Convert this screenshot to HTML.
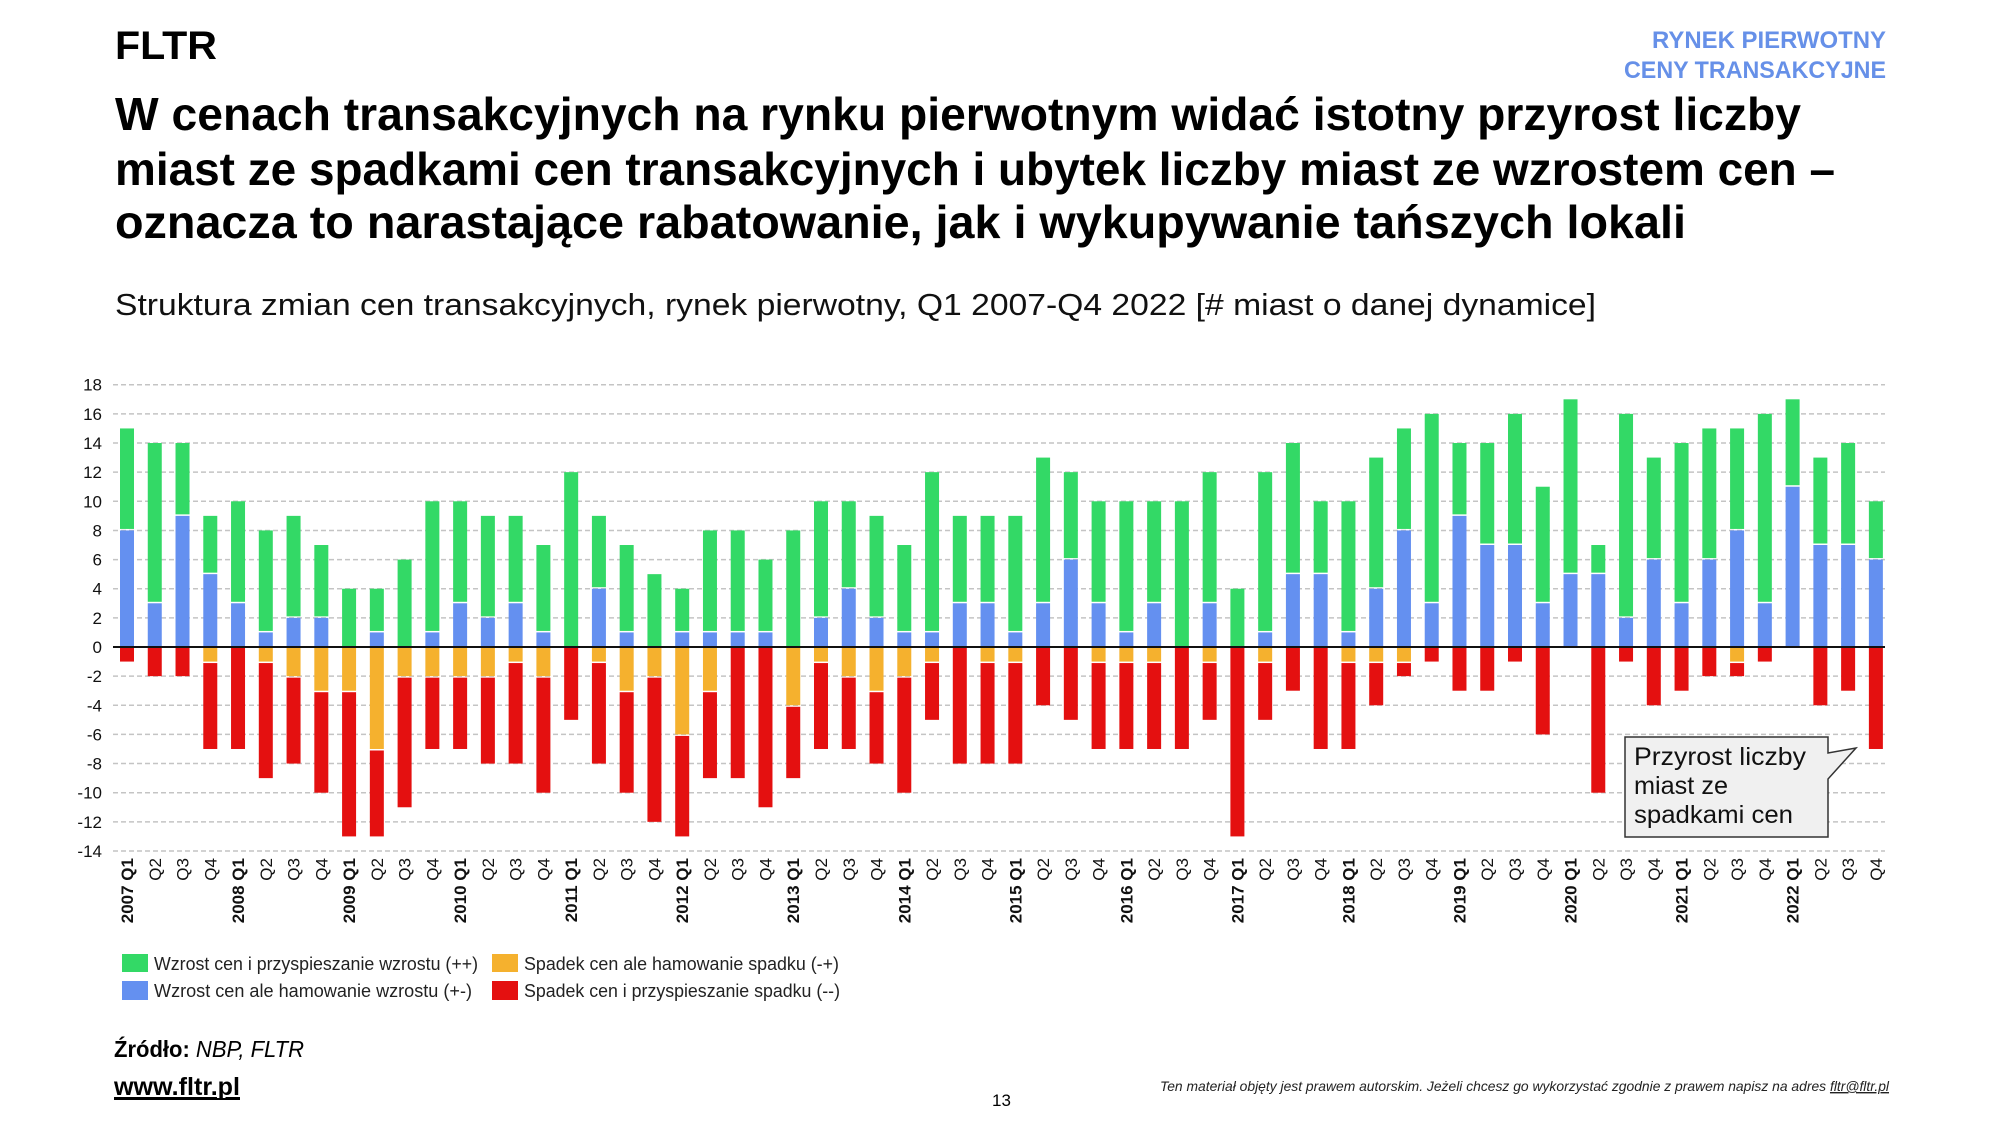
<!DOCTYPE html>
<html><head><meta charset="utf-8">
<style>
html,body{margin:0;padding:0;background:#fff;}
svg{display:block;}
text{font-family:"Liberation Sans",sans-serif;}
</style></head>
<body>
<svg id="s" width="2000" height="1125" viewBox="0 0 2000 1125" xmlns="http://www.w3.org/2000/svg">
<rect width="2000" height="1125" fill="#fff"/>
<text x="115" y="59" font-size="40" font-weight="bold" fill="#000" textLength="102" lengthAdjust="spacingAndGlyphs">FLTR</text>
<text x="1886" y="48" font-size="24" font-weight="bold" fill="#6690e8" text-anchor="end" textLength="234" lengthAdjust="spacingAndGlyphs">RYNEK PIERWOTNY</text>
<text x="1886" y="78" font-size="24" font-weight="bold" fill="#6690e8" text-anchor="end" textLength="262" lengthAdjust="spacingAndGlyphs">CENY TRANSAKCYJNE</text>
<text x="115" y="130" font-size="46" font-weight="bold" fill="#000" textLength="1686" lengthAdjust="spacingAndGlyphs">W cenach transakcyjnych na rynku pierwotnym widać istotny przyrost liczby</text>
<text x="115" y="185" font-size="46" font-weight="bold" fill="#000" textLength="1720" lengthAdjust="spacingAndGlyphs">miast ze spadkami cen transakcyjnych i ubytek liczby miast ze wzrostem cen –</text>
<text x="115" y="238" font-size="46" font-weight="bold" fill="#000" textLength="1571" lengthAdjust="spacingAndGlyphs">oznacza to narastające rabatowanie, jak i wykupywanie tańszych lokali</text>
<text x="115" y="315" font-size="31" fill="#111" textLength="1481" lengthAdjust="spacingAndGlyphs">Struktura zmian cen transakcyjnych, rynek pierwotny, Q1 2007-Q4 2022 [# miast o danej dynamice]</text>
<g id="grid"></g>
<g id="bars"></g>
<g id="xl"></g>
<path d="M1625,737 H1828 V753 L1856,748 L1828,779 V837 H1625 Z" fill="#f0f0f0" stroke="#333" stroke-width="1.5"/>
<text x="1634" y="765" font-size="25" fill="#111" textLength="172" lengthAdjust="spacingAndGlyphs">Przyrost liczby</text>
<text x="1634" y="794" font-size="25" fill="#111" textLength="94" lengthAdjust="spacingAndGlyphs">miast ze</text>
<text x="1634" y="823" font-size="25" fill="#111" textLength="159" lengthAdjust="spacingAndGlyphs">spadkami cen</text>
<rect x="122" y="954" width="26" height="18" fill="#33d966"/>
<text x="154" y="970" font-size="18" fill="#222" textLength="324" lengthAdjust="spacingAndGlyphs">Wzrost cen i przyspieszanie wzrostu (++)</text>
<rect x="122" y="981" width="26" height="19" fill="#6490f0"/>
<text x="154" y="997" font-size="18" fill="#222" textLength="318" lengthAdjust="spacingAndGlyphs">Wzrost cen ale hamowanie wzrostu (+-)</text>
<rect x="492" y="954" width="26" height="18" fill="#f5b12e"/>
<text x="524" y="970" font-size="18" fill="#222" textLength="315" lengthAdjust="spacingAndGlyphs">Spadek cen ale hamowanie spadku (-+)</text>
<rect x="492" y="981" width="26" height="19" fill="#e41010"/>
<text x="524" y="997" font-size="18" fill="#222" textLength="316" lengthAdjust="spacingAndGlyphs">Spadek cen i przyspieszanie spadku (--)</text>
<text x="114" y="1057" font-size="23" fill="#000" textLength="190" lengthAdjust="spacingAndGlyphs"><tspan font-weight="bold">Źródło: </tspan><tspan font-style="italic">NBP, FLTR</tspan></text>
<text x="114" y="1095" font-size="25" font-weight="bold" fill="#000" text-decoration="underline" textLength="126" lengthAdjust="spacingAndGlyphs">www.fltr.pl</text>
<rect x="114" y="1098" width="126" height="2" fill="#000"/>
<text x="992" y="1106" font-size="17" fill="#000">13</text>
<text x="1160" y="1091" font-size="14" font-style="italic" fill="#222" textLength="729" lengthAdjust="spacingAndGlyphs">Ten materiał objęty jest prawem autorskim. Jeżeli chcesz go wykorzystać zgodnie z prawem napisz na adres <tspan text-decoration="underline">fltr@fltr.pl</tspan></text>
</svg>
<script>
var NS="http://www.w3.org/2000/svg";
function el(p,t,a,txt){var e=document.createElementNS(NS,t);for(var k in a)e.setAttribute(k,a[k]);if(txt!=null)e.textContent=txt;p.appendChild(e);return e;}
var Z=647,U=14.57,X0=127,DX=27.76,W=14;
var g=document.getElementById('grid'),b=document.getElementById('bars'),xl=document.getElementById('xl');
for(var v=-14;v<=18;v+=2){var y=Z-v*U;
 if(v!==0) el(g,'line',{x1:113,x2:1885,y1:y,y2:y,stroke:'#c4c4c4','stroke-width':1.5,'stroke-dasharray':'5,3'});
 el(g,'text',{x:102,y:y+6,'font-size':17,'text-anchor':'end',fill:'#111'},String(v));}
// [total, blue, orange(abs), bottom(abs)]
var D=[[15,8,0,1],[14,3,0,2],[14,9,0,2],[9,5,1,7],
[10,3,0,7],[8,1,1,9],[9,2,2,8],[7,2,3,10],
[4,0,3,13],[4,1,7,13],[6,0,2,11],[10,1,2,7],
[10,3,2,7],[9,2,2,8],[9,3,1,8],[7,1,2,10],
[12,0,0,5],[9,4,1,8],[7,1,3,10],[5,0,2,12],
[4,1,6,13],[8,1,3,9],[8,1,0,9],[6,1,0,11],
[8,0,4,9],[10,2,1,7],[10,4,2,7],[9,2,3,8],
[7,1,2,10],[12,1,1,5],[9,3,0,8],[9,3,1,8],
[9,1,1,8],[13,3,0,4],[12,6,0,5],[10,3,1,7],
[10,1,1,7],[10,3,1,7],[10,0,0,7],[12,3,1,5],
[4,0,0,13],[12,1,1,5],[14,5,0,3],[10,5,0,7],
[10,1,1,7],[13,4,1,4],[15,8,1,2],[16,3,0,1],
[14,9,0,3],[14,7,0,3],[16,7,0,1],[11,3,0,6],
[17,5,0,0],[7,5,0,10],[16,2,0,1],[13,6,0,4],
[14,3,0,3],[15,6,0,2],[15,8,1,2],[16,3,0,1],
[17,11,0,0],[13,7,0,4],[14,7,0,3],[10,6,0,7]];
for(var i=0;i<D.length;i++){var d=D[i],cx=X0+i*DX,x=cx-W/2;
 if(d[1]>0) el(b,'rect',{x:x,y:Z-d[1]*U,width:W,height:d[1]*U,fill:'#6490f0'});
 if(d[0]>d[1]) el(b,'rect',{x:x,y:Z-d[0]*U,width:W,height:(d[0]-d[1])*U-(d[1]>0?1.5:0),fill:'#33d966'});
 if(d[2]>0) el(b,'rect',{x:x,y:Z,width:W,height:d[2]*U,fill:'#f5b12e'});
 if(d[3]>d[2]) el(b,'rect',{x:x,y:Z+d[2]*U+(d[2]>0?1.5:0),width:W,height:(d[3]-d[2])*U-(d[2]>0?1.5:0),fill:'#e41010'});
 var q=i%4, t;
 t=el(xl,'text',{x:0,y:0,'font-size':17,'text-anchor':'end',fill:'#111',transform:'translate('+(cx+6)+',858) rotate(-90)'});
 if(q===0){t.setAttribute('font-weight','bold');t.textContent=(2007+i/4)+' Q1';}
 else t.textContent='Q'+(q+1);
}
el(b,'line',{x1:113,x2:1885,y1:Z,y2:Z,stroke:'#111','stroke-width':2});
</script>
</body></html>
